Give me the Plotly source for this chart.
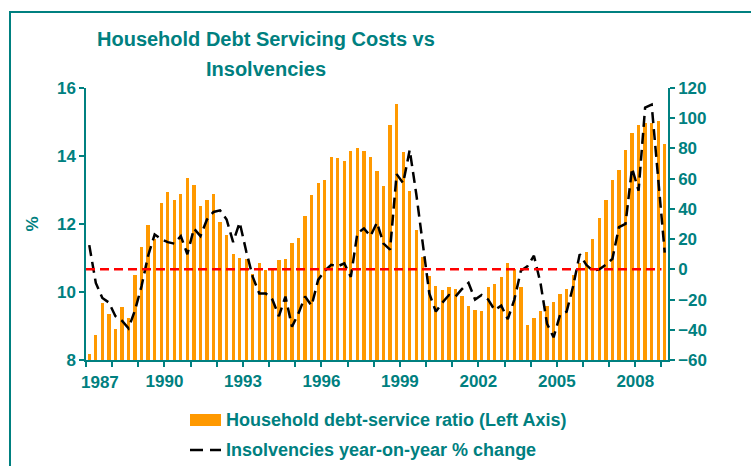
import plotly.graph_objects as go

# Quarterly series, 1987 Q1 to 2009 Q1
start_year = 1987
debt_service_ratio = [
    8.18, 8.74, 9.68, 9.35, 8.91, 9.56, 9.24, 10.50, 11.32, 11.97,
    11.56, 12.62, 12.94, 12.71, 12.88, 13.35, 13.15, 12.53, 12.71, 12.88,
    12.06, 11.68, 11.12, 11.00, 10.97, 10.53, 10.85, 10.65, 10.65, 10.94,
    10.97, 11.44, 11.59, 12.24, 12.85, 13.21, 13.29, 13.97, 13.94, 13.85,
    14.15, 14.24, 14.15, 13.97, 13.56, 13.12, 14.91, 15.53, 14.12, 12.97,
    11.82, 11.03, 10.47, 10.18, 10.06, 10.15, 10.09, 9.88, 9.59, 9.47,
    9.44, 10.15, 10.24, 10.44, 10.85, 10.68, 10.15, 9.03, 9.24, 9.44,
    9.59, 9.71, 9.94, 10.09, 10.50, 10.85, 11.18, 11.56, 12.18, 12.71,
    13.29, 13.59, 14.18, 14.68, 14.91, 14.97, 14.97, 15.03, 14.35,
]
insolvencies_yoy = [
    16, -9, -19, -22, -31, -34, -39, -27, -11, 9,
    23, 20, 18, 17, 22, 10, 27, 22, 33, 38,
    39, 33, 18, 31, 12, -5, -16, -16, -20, -31,
    -18, -38, -29, -18, -24, -7, -1, 3, 2, 4,
    -5, 24, 27, 22, 31, 17, 13, 63, 57, 79,
    50, 15, -16, -28, -22, -17, -18, -13, -9, -20,
    -17, -20, -27, -24, -33, -20, -1, 2, 9, -9,
    -36, -45, -30, -28, -11, 10, 3, -1, 0, 3,
    7, 28, 30, 67, 52, 107, 109, 60, 11,
]
tick_years = list(range(1987, 2010))
labelled_years = [1987, 1990, 1993, 1996, 1999, 2002, 2005, 2008]
title_lines = ["Household Debt Servicing Costs vs", "Insolvencies"]

TEAL = "#008080"
ORANGE = "#FF9900"
FONT = "Liberation Sans, Arial, sans-serif"

W, H = 751, 466
ML, MR, MT, MB = 86, 83, 88, 106
PW, PH = W - ML - MR, H - MT - MB


def px_x(p):
    return (p - ML) / PW


def px_y(p):
    return (H - MB - p) / PH


# bar centres sit in the middle of each quarter
quarter_x = [start_year + (i + 0.5) / 4 for i in range(len(debt_service_ratio))]

fig = go.Figure()
fig.add_trace(go.Bar(
    x=quarter_x, y=debt_service_ratio, width=0.125,
    marker=dict(color=ORANGE, line=dict(width=0)),
    name="Household debt-service ratio (Left Axis)", showlegend=False,
))
fig.add_trace(go.Scatter(
    x=quarter_x, y=insolvencies_yoy, yaxis="y2", mode="lines",
    line=dict(color="black", width=2.5, dash="11px,6px"),
    name="Insolvencies year-on-year % change", showlegend=False,
))

# zero line of the right axis
fig.add_shape(type="line", xref="x", yref="y2", x0=1987, x1=2009, y0=0, y1=0,
              line=dict(color="#FF0000", width=2.5, dash="9px,5px"))

# outer frame
fig.add_shape(type="rect", xref="paper", yref="paper",
              x0=px_x(10), x1=px_x(W + 10), y0=px_y(12), y1=px_y(H + 10),
              line=dict(color=TEAL, width=2), layer="below")

# legend
fig.add_shape(type="rect", xref="paper", yref="paper",
              x0=px_x(190), x1=px_x(221), y0=px_y(414), y1=px_y(426),
              fillcolor=ORANGE, line=dict(width=0))
fig.add_shape(type="line", xref="paper", yref="paper",
              x0=px_x(190), x1=px_x(221), y0=px_y(450), y1=px_y(450),
              line=dict(color="black", width=2.5, dash="13px,7px"))
legend_font = dict(family=FONT, size=18, color=TEAL, weight="bold")
fig.add_annotation(text="Household debt-service ratio (Left Axis)", xref="paper", yref="paper",
                   x=px_x(224), y=px_y(420), xanchor="left", yanchor="middle",
                   showarrow=False, font=legend_font)
fig.add_annotation(text="Insolvencies year-on-year % change", xref="paper", yref="paper",
                   x=px_x(224), y=px_y(450), xanchor="left", yanchor="middle",
                   showarrow=False, font=legend_font)

# title, two centred lines
title_font = dict(family=FONT, size=20, color=TEAL, weight="bold")
for line_text, centre_y in zip(title_lines, [39, 69]):
    fig.add_annotation(text=line_text, xref="paper", yref="paper",
                       x=px_x(266), y=px_y(centre_y), xanchor="center", yanchor="middle",
                       showarrow=False, font=title_font)

tick_font = dict(family=FONT, size=17, color=TEAL, weight="bold")
axis_common = dict(showline=True, linecolor=TEAL, linewidth=1.5, ticks="outside",
                   ticklen=5, tickcolor=TEAL, tickwidth=1.5, showgrid=False,
                   zeroline=False, tickfont=tick_font)

# the first year label is nudged inward so it stays clear of the left axis
first_label = labelled_years[0]
fig.add_annotation(text=str(first_label), xref="paper", yref="paper",
                   x=px_x(100), y=px_y(382), xanchor="center", yanchor="middle",
                   showarrow=False, font=tick_font)

fig.update_layout(
    width=W, height=H,
    margin=dict(l=ML, r=MR, t=MT, b=MB),
    paper_bgcolor="white", plot_bgcolor="white",
    bargap=0,
    xaxis=dict(range=[1987, 2009.25], tickmode="array", tickvals=tick_years,
               ticktext=[str(y) if (y in labelled_years and y != first_label) else ""
                         for y in tick_years],
               **axis_common),
    yaxis=dict(range=[8, 16], dtick=2, tick0=8,
               title=dict(text="%", font=tick_font, standoff=14),
               **axis_common),
    yaxis2=dict(range=[-60, 120], dtick=20, tick0=-60, overlaying="y", side="right",
                **axis_common),
)

fig.write_html("out.html")
